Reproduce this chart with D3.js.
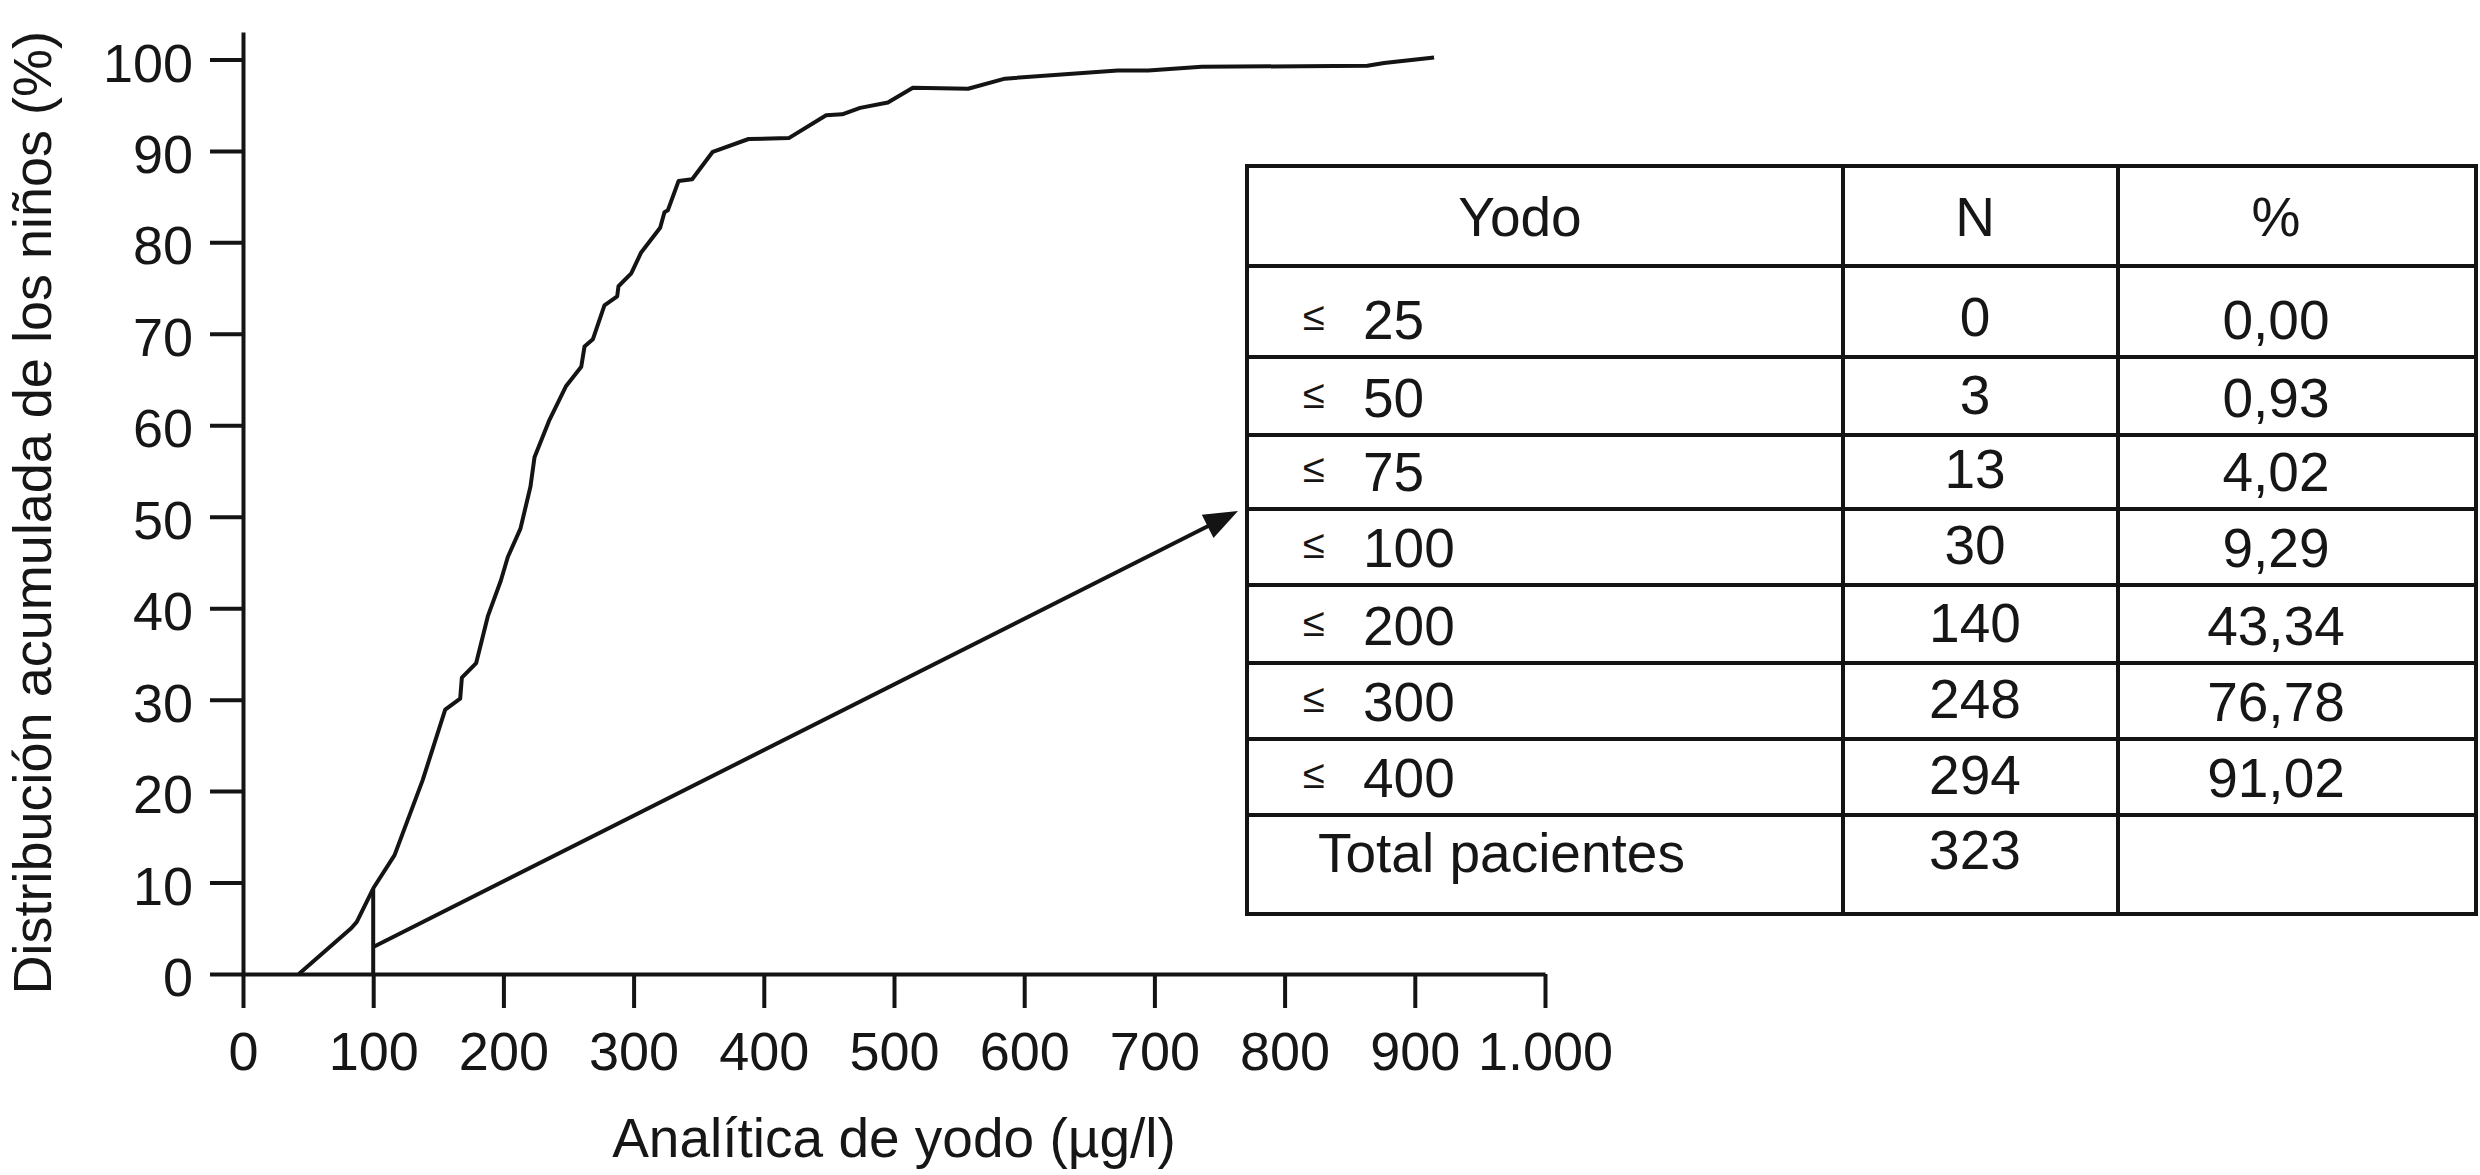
<!DOCTYPE html>
<html>
<head>
<meta charset="utf-8">
<script src="https://cdn.jsdelivr.net/npm/d3@7"></script>
<style>
  html, body { margin: 0; padding: 0; background: #ffffff; }
  svg { display: block; }
  text { font-family: "Liberation Sans", Arial, Helvetica, sans-serif; fill: #161616; }
</style>
</head>
<body>
<svg id="chart" width="2480" height="1175"></svg>
<script>
// ---------------- DATA ----------------
// cumulative distribution curve (iodine in µg/l, cumulative % of children)
const iodine = [42.9, 83.1, 87.4, 100.2, 116.4, 138, 155.3, 166.8, 168.1, 179.1, 188, 198,
  203.4, 213.1, 220.8, 223.9, 235.4, 248.2, 259.8, 262.3, 268.7, 277.6, 287.4, 288.4, 298.2,
  305.8, 320.4, 323.7, 326.3, 334.5, 345, 360.8, 388.3, 419.2, 447.9, 460.2, 474, 495.3,
  514.5, 556.9, 585.2, 671.8, 695.3, 736.3, 863.6, 876.4, 914.8];
const cumPercent = [0, 5.0, 5.7, 9.4, 13.0, 21.2, 28.9, 30.1, 32.4, 34.0, 39.1, 43.0,
  45.6, 48.7, 53.3, 56.5, 60.6, 64.3, 66.4, 68.6, 69.4, 73.1, 74.1, 75.2, 76.6,
  78.9, 81.6, 83.3, 83.5, 86.7, 86.9, 89.9, 91.3, 91.4, 93.9, 94.0, 94.7, 95.3,
  96.9, 96.8, 97.9, 98.8, 98.8, 99.2, 99.3, 99.6, 100.2];

const xTickValues = [0, 100, 200, 300, 400, 500, 600, 700, 800, 900, 1000];
const xTickLabels = ["0", "100", "200", "300", "400", "500", "600", "700", "800", "900", "1.000"];
const yTickValues = [0, 10, 20, 30, 40, 50, 60, 70, 80, 90, 100];

const xTitle = "Analítica de yodo (µg/l)";
const yTitle = "Distribución acumulada de los niños (%)";

// table
const tableHeaders = ["Yodo", "N", "%"];
const yodoLimits = ["25", "50", "75", "100", "200", "300", "400"];
const nCounts = [0, 3, 13, 30, 140, 248, 294];
const percents = ["0,00", "0,93", "4,02", "9,29", "43,34", "76,78", "91,02"];
const totalLabel = "Total pacientes";
const totalN = 323;

// annotation: vertical marker at 100 µg/l and arrow start
const markerIodine = 100;
const markerPercent = 9.29;
const arrowStart = [100.8, 3.0];

// ---------------- LAYOUT ----------------
const svg = d3.select("#chart");
svg.append("rect").attr("width", 2480).attr("height", 1175).attr("fill", "#ffffff");
const ink = "#141414";
const lw = 4;

const x = d3.scaleLinear().domain([0, 1000]).range([243, 1545]);
const y = d3.scaleLinear().domain([0, 103]).range([974, 32]);

// axes
const xAxis = svg.append("g")
  .attr("transform", `translate(0,${y(0)})`)
  .call(d3.axisBottom(x).tickValues(xTickValues).tickFormat((d, i) => xTickLabels[i])
    .tickSize(34).tickSizeOuter(0).tickPadding(24));
const yAxis = svg.append("g")
  .attr("transform", `translate(${x(0)},0)`)
  .call(d3.axisLeft(y).tickValues(yTickValues).tickFormat(d3.format("d"))
    .tickSize(33).tickSizeOuter(0).tickPadding(17));

[xAxis, yAxis].forEach(g => {
  g.select(".domain").attr("stroke", ink).attr("stroke-width", lw);
  g.selectAll(".tick line").attr("stroke", ink).attr("stroke-width", lw);
  g.selectAll(".tick text").attr("font-size", 54)
    .attr("font-family", "'Liberation Sans', Arial, sans-serif").attr("fill", "#161616");
});
yAxis.selectAll(".tick text").attr("dy", "0.4em");

// axis titles
svg.append("text")
  .attr("x", (x(0) + x(1000)) / 2).attr("y", 1157)
  .attr("text-anchor", "middle").attr("font-size", 55)
  .text(xTitle);
svg.append("text")
  .attr("transform", `translate(51,${(y(0) + y(100)) / 2 - 4}) rotate(-90)`)
  .attr("text-anchor", "middle").attr("font-size", 54)
  .text(yTitle);

// curve
const pts = iodine.map((v, i) => [v, cumPercent[i]]);
svg.append("path")
  .datum(pts)
  .attr("fill", "none").attr("stroke", ink).attr("stroke-width", lw)
  .attr("stroke-linejoin", "round")
  .attr("d", d3.line().x(d => x(d[0])).y(d => y(d[1])));

// vertical marker at 100
svg.append("line")
  .attr("x1", x(markerIodine)).attr("x2", x(markerIodine))
  .attr("y1", y(0)).attr("y2", y(markerPercent))
  .attr("stroke", ink).attr("stroke-width", lw);

// ---------------- TABLE ----------------
const colEdges = [1247, 1843, 2118, 2476];
const rowEdges = [166, 266, 357, 435, 509, 585, 663, 739, 815, 914];
const tbl = svg.append("g");
rowEdges.forEach(ry => {
  tbl.append("line").attr("x1", colEdges[0] - 2).attr("x2", colEdges[3] + 2)
    .attr("y1", ry).attr("y2", ry).attr("stroke", ink).attr("stroke-width", lw);
});
colEdges.forEach(cx => {
  tbl.append("line").attr("x1", cx).attr("x2", cx)
    .attr("y1", rowEdges[0]).attr("y2", rowEdges[rowEdges.length - 1])
    .attr("stroke", ink).attr("stroke-width", lw);
});

const fs = 55;
const col1Center = 1520, col2Center = 1975, col3Center = 2276;
// header
tableHeaders.forEach((h, i) => {
  tbl.append("text")
    .attr("x", [col1Center, col2Center, col3Center][i])
    .attr("y", rowEdges[1] - 30)
    .attr("text-anchor", "middle").attr("font-size", fs)
    .text(h);
});
// data rows
yodoLimits.forEach((lim, i) => {
  const base = rowEdges[i + 2] - 18;
  tbl.append("text").attr("x", 1303).attr("y", base - 9)
    .attr("font-size", 40).text("≤");
  tbl.append("text").attr("x", 1363).attr("y", base)
    .attr("font-size", fs).text(lim);
  tbl.append("text").attr("x", col2Center).attr("y", base - 3)
    .attr("text-anchor", "middle").attr("font-size", fs).text(String(nCounts[i]));
  tbl.append("text").attr("x", col3Center).attr("y", base)
    .attr("text-anchor", "middle").attr("font-size", fs).text(percents[i]);
});
// total row
const totBase = rowEdges[8] + 57;
tbl.append("text").attr("x", 1318).attr("y", totBase).attr("font-size", fs).text(totalLabel);
tbl.append("text").attr("x", col2Center).attr("y", totBase - 3)
  .attr("text-anchor", "middle").attr("font-size", fs).text(String(totalN));

// ---------------- ARROW ----------------
const tip = [colEdges[0] - 9, 511];
const start = [x(arrowStart[0]), y(arrowStart[1])];
const ang = Math.atan2(tip[1] - start[1], tip[0] - start[0]);
const headLen = 34, headHalf = 13;
const base = [tip[0] - headLen * Math.cos(ang), tip[1] - headLen * Math.sin(ang)];
svg.append("line")
  .attr("x1", start[0]).attr("y1", start[1])
  .attr("x2", base[0] + 4 * Math.cos(ang)).attr("y2", base[1] + 4 * Math.sin(ang))
  .attr("stroke", ink).attr("stroke-width", lw);
const perp = [-Math.sin(ang), Math.cos(ang)];
svg.append("path")
  .attr("d", `M${tip[0]},${tip[1]} L${base[0] + headHalf * perp[0]},${base[1] + headHalf * perp[1]} L${base[0] - headHalf * perp[0]},${base[1] - headHalf * perp[1]} Z`)
  .attr("fill", ink);
</script>
</body>
</html>
